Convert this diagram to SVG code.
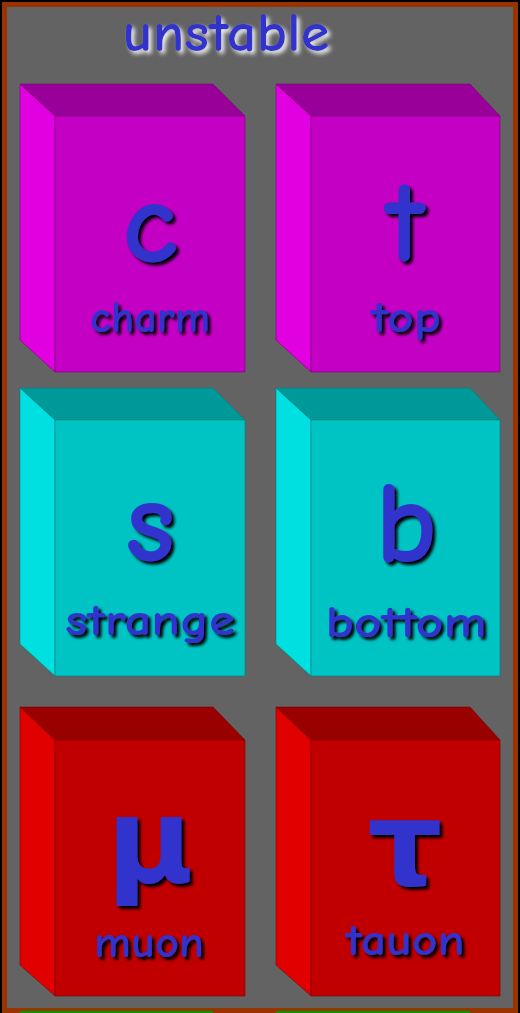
<svg xmlns="http://www.w3.org/2000/svg" width="520" height="1013" viewBox="0 0 520 1013">
<defs>
<filter id="sh" x="-20%" y="-20%" width="150%" height="150%">
<feGaussianBlur in="SourceAlpha" stdDeviation="1.8"/>
<feOffset dx="3" dy="3" result="b"/>
<feMerge><feMergeNode in="b"/><feMergeNode in="SourceGraphic"/></feMerge>
</filter>
<filter id="glow" x="-20%" y="-30%" width="150%" height="170%">
<feGaussianBlur in="SourceAlpha" stdDeviation="2"/>
<feOffset dx="3" dy="3"/>
<feComponentTransfer><feFuncR type="linear" slope="0" intercept="1"/><feFuncG type="linear" slope="0" intercept="1"/><feFuncB type="linear" slope="0" intercept="1"/></feComponentTransfer>
<feComponentTransfer result="w"><feFuncA type="linear" slope="0.9"/></feComponentTransfer>
<feMerge><feMergeNode in="w"/><feMergeNode in="SourceGraphic"/></feMerge>
</filter>
</defs>
<style>
text{font-family:"Comic Sans MS","Comic Neue","DejaVu Sans",sans-serif;fill:#3333CC;text-anchor:middle;font-weight:bold}
.big{font-size:118px;filter:url(#sh)}
.lbl{font-size:44px;filter:url(#sh)}
.title{font-size:54px;filter:url(#glow)}
.m .front{fill:#C400C4}.m .top{fill:#990099}.m .side{fill:#E000E0}.m polygon{stroke:#800080}
.c .front{fill:#00C4C4}.c .top{fill:#009999}.c .side{fill:#00E0E0}.c polygon{stroke:#008080}
.r .front{fill:#C00000}.r .top{fill:#990000}.r .side{fill:#E00000}.r polygon{stroke:#800000}
polygon{stroke-width:1;stroke-opacity:0.6}
</style>
<rect x="0" y="0" width="520" height="1013" fill="#000000"/>
<rect x="2" y="2" width="516" height="1011" fill="#993300"/>
<rect x="7" y="7" width="506" height="1001" fill="#636363"/>
<rect x="20" y="1011" width="193" height="2" fill="#009900"/>
<rect x="276" y="1011" width="194" height="2" fill="#009900"/>
<g id="title"><text class="title" x="226" y="51" textLength="207" lengthAdjust="spacingAndGlyphs">unstable</text></g>
<g id="charm" class="m">
<polygon class="top" points="20,84 213,84 245,116 55,116"/>
<polygon class="side" points="20,84 55,116 55,372 20,340"/>
<polygon class="front" points="55,116 245,116 245,372 55,372"/>
<text class="big" x="150" y="262">c</text>
<text class="lbl" x="150" y="332" textLength="120" lengthAdjust="spacingAndGlyphs">charm</text>
</g>
<g id="top" class="m">
<polygon class="top" points="276,84 470,84 500,116 311,116"/>
<polygon class="side" points="276,84 311,116 311,372 276,340"/>
<polygon class="front" points="311,116 500,116 500,372 311,372"/>
<text class="big" x="405" y="261">t</text>
<text class="lbl" x="406" y="332" textLength="70" lengthAdjust="spacingAndGlyphs">top</text>
</g>
<g id="strange" class="c">
<polygon class="top" points="20,388 213,388 245,420 55,420"/>
<polygon class="side" points="20,388 55,420 55,676 20,644"/>
<polygon class="front" points="55,420 245,420 245,676 55,676"/>
<text class="big" x="150" y="561">s</text>
<text class="lbl" x="150" y="635" textLength="170" lengthAdjust="spacingAndGlyphs">strange</text>
</g>
<g id="bottom" class="c">
<polygon class="top" points="276,388 470,388 500,420 311,420"/>
<polygon class="side" points="276,388 311,420 311,676 276,644"/>
<polygon class="front" points="311,420 500,420 500,676 311,676"/>
<text class="big" x="406" y="562">b</text>
<text class="lbl" x="406" y="637" textLength="161" lengthAdjust="spacingAndGlyphs">bottom</text>
</g>
<g id="muon" class="r">
<polygon class="top" points="20,707 213,707 245,740 55,740"/>
<polygon class="side" points="20,707 55,740 55,996 20,965"/>
<polygon class="front" points="55,740 245,740 245,996 55,996"/>
<text class="big" x="150" y="882">μ</text>
<text class="lbl" x="149" y="957" textLength="110" lengthAdjust="spacingAndGlyphs">muon</text>
</g>
<g id="tauon" class="r">
<polygon class="top" points="276,707 470,707 500,740 311,740"/>
<polygon class="side" points="276,707 311,740 311,996 276,965"/>
<polygon class="front" points="311,740 500,740 500,996 311,996"/>
<text class="big" x="405" y="885">τ</text>
<text class="lbl" x="405" y="955" textLength="119" lengthAdjust="spacingAndGlyphs">tauon</text>
</g>
<g id="connectors"/>
</svg>
